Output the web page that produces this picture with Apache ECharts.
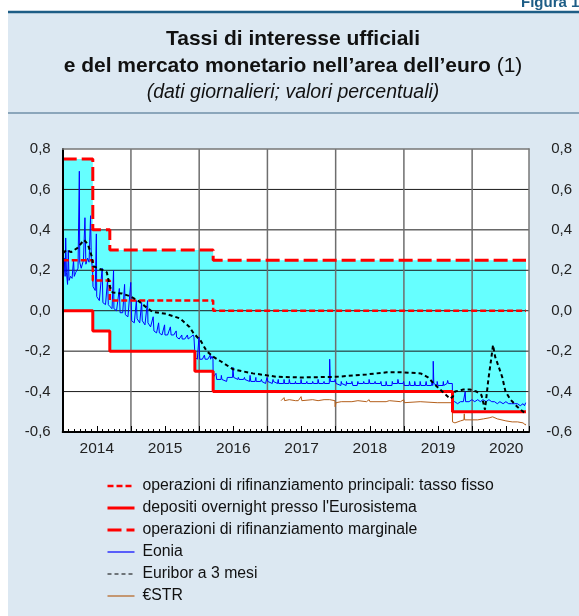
<!DOCTYPE html>
<html>
<head>
<meta charset="utf-8">
<script src="https://cdn.jsdelivr.net/npm/echarts@6/dist/echarts.min.js"></script>
<style>
  html, body { margin: 0; padding: 0; background: #fff; }
  #chart { width: 579px; height: 616px; }
</style>
</head>
<body>
<div id="chart"></div>
<script>
// policy rates: value in force from each date (last date closes the line)
var policyDates = ['2014-01-01', '2014-06-11', '2014-09-10', '2015-12-09', '2016-03-16', '2019-09-18', '2020-10-16'];
var mro = [0.25, 0.15, 0.05, 0.05, 0.00, 0.00, 0.00];
var deposit = [0.00, -0.10, -0.20, -0.30, -0.40, -0.50, -0.50];
var marginal = [0.75, 0.40, 0.30, 0.30, 0.25, 0.25, 0.25];

var yearLabels = ['2014', '2015', '2016', '2017', '2018', '2019', '2020'];
var yTicks = [-0.6, -0.4, -0.2, 0.0, 0.2, 0.4, 0.6, 0.8];

var eonia = [
  ['2014-01-02', 0.23], ['2014-01-07', 0.19], ['2014-01-10', 0.26], ['2014-01-14', 0.17], ['2014-01-17', 0.36], ['2014-01-21', 0.19],
  ['2014-01-27', 0.13], ['2014-01-31', 0.30], ['2014-02-04', 0.15], ['2014-02-12', 0.17], ['2014-02-20', 0.16], ['2014-02-28', 0.25],
  ['2014-03-04', 0.17], ['2014-03-12', 0.19], ['2014-03-24', 0.21], ['2014-03-31', 0.69], ['2014-04-02', 0.24], ['2014-04-10', 0.21],
  ['2014-04-22', 0.25], ['2014-04-30', 0.46], ['2014-05-05', 0.23], ['2014-05-14', 0.26], ['2014-05-22', 0.24], ['2014-05-30', 0.47],
  ['2014-06-03', 0.26], ['2014-06-10', 0.20], ['2014-06-12', 0.12], ['2014-06-24', 0.10], ['2014-06-30', 0.38], ['2014-07-02', 0.07],
  ['2014-07-16', 0.05], ['2014-07-31', 0.21], ['2014-08-04', 0.04], ['2014-08-18', 0.03], ['2014-08-29', 0.15], ['2014-09-02', 0.03],
  ['2014-09-11', 0.02], ['2014-09-22', 0.01], ['2014-09-30', 0.20], ['2014-10-02', 0.01], ['2014-10-16', 0.00], ['2014-10-31', 0.11],
  ['2014-11-04', -0.01], ['2014-11-18', -0.01], ['2014-11-28', 0.13], ['2014-12-02', -0.02], ['2014-12-16', -0.03], ['2014-12-31', 0.14],
  ['2015-01-05', -0.05], ['2015-01-19', -0.06], ['2015-01-30', 0.05], ['2015-02-03', -0.04], ['2015-02-17', -0.06], ['2015-02-27', 0.04],
  ['2015-03-03', -0.05], ['2015-03-17', -0.07], ['2015-03-31', 0.05], ['2015-04-02', -0.06], ['2015-04-16', -0.08], ['2015-04-30', -0.03],
  ['2015-05-04', -0.10], ['2015-05-18', -0.11], ['2015-05-29', -0.06], ['2015-06-02', -0.11], ['2015-06-16', -0.12], ['2015-06-30', -0.07],
  ['2015-07-02', -0.12], ['2015-07-16', -0.12], ['2015-07-31', -0.08], ['2015-08-04', -0.12], ['2015-08-18', -0.12], ['2015-08-31', -0.10],
  ['2015-09-02', -0.13], ['2015-09-16', -0.14], ['2015-09-30', -0.12], ['2015-10-02', -0.14], ['2015-10-16', -0.14], ['2015-10-30', -0.12],
  ['2015-11-03', -0.14], ['2015-11-17', -0.13], ['2015-11-30', -0.12], ['2015-12-04', -0.13], ['2015-12-09', -0.13], ['2015-12-10', -0.23],
  ['2015-12-22', -0.24], ['2015-12-31', -0.13], ['2016-01-04', -0.24], ['2016-01-18', -0.24], ['2016-01-29', -0.22], ['2016-02-02', -0.24],
  ['2016-02-16', -0.24], ['2016-02-29', -0.22], ['2016-03-02', -0.24], ['2016-03-10', -0.225], ['2016-03-15', -0.24], ['2016-03-16', -0.33],
  ['2016-03-31', -0.31], ['2016-04-04', -0.34], ['2016-04-27', -0.34], ['2016-04-29', -0.32], ['2016-05-02', -0.34], ['2016-05-27', -0.35],
  ['2016-05-31', -0.33], ['2016-06-02', -0.33], ['2016-06-28', -0.33], ['2016-06-30', -0.28], ['2016-07-04', -0.33], ['2016-07-27', -0.34],
  ['2016-07-29', -0.33], ['2016-08-02', -0.34], ['2016-08-26', -0.34], ['2016-08-31', -0.33], ['2016-09-02', -0.34], ['2016-09-27', -0.35],
  ['2016-09-30', -0.32], ['2016-10-04', -0.35], ['2016-10-27', -0.35], ['2016-10-31', -0.33], ['2016-11-02', -0.35], ['2016-11-25', -0.35],
  ['2016-11-30', -0.34], ['2016-12-02', -0.35], ['2016-12-22', -0.36], ['2016-12-30', -0.33],
  ['2017-01-03', -0.35], ['2017-01-27', -0.36], ['2017-01-31', -0.34], ['2017-02-02', -0.35], ['2017-02-24', -0.36], ['2017-02-28', -0.34],
  ['2017-03-02', -0.36], ['2017-03-29', -0.36], ['2017-03-31', -0.34], ['2017-04-03', -0.36], ['2017-04-26', -0.36], ['2017-04-28', -0.34],
  ['2017-05-02', -0.36], ['2017-05-29', -0.36], ['2017-05-31', -0.35], ['2017-06-02', -0.36], ['2017-06-28', -0.36], ['2017-06-30', -0.34],
  ['2017-07-03', -0.36], ['2017-07-27', -0.36], ['2017-07-31', -0.35], ['2017-08-02', -0.36], ['2017-08-29', -0.36], ['2017-08-31', -0.35],
  ['2017-09-04', -0.36], ['2017-09-27', -0.36], ['2017-09-29', -0.34], ['2017-10-03', -0.36], ['2017-10-27', -0.36], ['2017-10-31', -0.35],
  ['2017-11-02', -0.36], ['2017-11-28', -0.36], ['2017-11-30', -0.24], ['2017-12-04', -0.35], ['2017-12-27', -0.35], ['2017-12-29', -0.34],
  ['2018-01-03', -0.36], ['2018-01-29', -0.37], ['2018-01-31', -0.35], ['2018-02-02', -0.36], ['2018-02-26', -0.37], ['2018-02-28', -0.35],
  ['2018-03-02', -0.36], ['2018-03-27', -0.36], ['2018-03-29', -0.35], ['2018-04-03', -0.37], ['2018-04-26', -0.37], ['2018-04-30', -0.35],
  ['2018-05-02', -0.36], ['2018-05-29', -0.36], ['2018-05-31', -0.35], ['2018-06-04', -0.36], ['2018-06-27', -0.36], ['2018-06-29', -0.34],
  ['2018-07-03', -0.36], ['2018-07-27', -0.36], ['2018-07-31', -0.35], ['2018-08-02', -0.36], ['2018-08-29', -0.36], ['2018-08-31', -0.35],
  ['2018-09-04', -0.37], ['2018-09-26', -0.37], ['2018-09-28', -0.35], ['2018-10-02', -0.37], ['2018-10-29', -0.37], ['2018-10-31', -0.35],
  ['2018-11-02', -0.36], ['2018-11-28', -0.36], ['2018-11-30', -0.34], ['2018-12-04', -0.36], ['2018-12-27', -0.36], ['2018-12-31', -0.35],
  ['2019-01-03', -0.37], ['2019-01-29', -0.37], ['2019-01-31', -0.35], ['2019-02-04', -0.37], ['2019-02-26', -0.37], ['2019-02-28', -0.35],
  ['2019-03-04', -0.37], ['2019-03-27', -0.37], ['2019-03-29', -0.35], ['2019-04-02', -0.37], ['2019-04-26', -0.37], ['2019-04-30', -0.35],
  ['2019-05-03', -0.37], ['2019-05-29', -0.37], ['2019-05-31', -0.35], ['2019-06-04', -0.37], ['2019-06-06', -0.36], ['2019-06-07', -0.25],
  ['2019-06-10', -0.36], ['2019-06-27', -0.37], ['2019-06-28', -0.35], ['2019-07-02', -0.37], ['2019-07-29', -0.37], ['2019-07-31', -0.35],
  ['2019-08-02', -0.37], ['2019-08-20', -0.36], ['2019-08-23', -0.345], ['2019-08-27', -0.36], ['2019-09-17', -0.36], ['2019-09-18', -0.45],
  ['2019-09-30', -0.45], ['2019-10-15', -0.46], ['2019-10-31', -0.45], ['2019-11-15', -0.45], ['2019-11-25', -0.40], ['2019-11-27', -0.45],
  ['2019-12-15', -0.45], ['2019-12-31', -0.44], ['2020-01-15', -0.45], ['2020-01-31', -0.44], ['2020-02-14', -0.45], ['2020-02-28', -0.44],
  ['2020-03-16', -0.45], ['2020-03-31', -0.44], ['2020-04-15', -0.45], ['2020-04-30', -0.45], ['2020-05-15', -0.46], ['2020-05-29', -0.45],
  ['2020-06-15', -0.46], ['2020-06-30', -0.45], ['2020-07-15', -0.46], ['2020-07-31', -0.46], ['2020-08-14', -0.46], ['2020-08-31', -0.46],
  ['2020-09-15', -0.47], ['2020-09-30', -0.46], ['2020-10-08', -0.47], ['2020-10-12', -0.47], ['2020-10-14', -0.455]
];

var euribor = [
  ['2014-01-02', 0.285], ['2014-01-22', 0.30], ['2014-02-15', 0.29], ['2014-03-20', 0.31], ['2014-04-25', 0.35], ['2014-05-15', 0.33],
  ['2014-06-05', 0.27], ['2014-06-13', 0.22], ['2014-07-10', 0.21], ['2014-08-05', 0.20], ['2014-08-25', 0.19], ['2014-09-10', 0.12],
  ['2014-09-25', 0.09], ['2014-11-15', 0.085], ['2014-12-31', 0.07], ['2015-02-15', 0.045], ['2015-03-20', 0.02], ['2015-04-25', -0.005],
  ['2015-07-10', -0.016], ['2015-09-20', -0.038], ['2015-11-10', -0.08], ['2015-12-01', -0.11], ['2016-01-10', -0.15], ['2016-02-10', -0.20],
  ['2016-03-20', -0.23], ['2016-04-25', -0.25], ['2016-07-01', -0.29], ['2016-10-15', -0.31], ['2017-02-20', -0.327], ['2017-07-01', -0.33],
  ['2018-01-05', -0.327], ['2018-06-15', -0.315], ['2018-10-01', -0.305], ['2019-01-01', -0.305], ['2019-04-01', -0.31], ['2019-05-10', -0.33],
  ['2019-06-10', -0.36], ['2019-07-25', -0.40], ['2019-09-05', -0.435], ['2019-09-20', -0.425], ['2019-10-01', -0.40], ['2019-11-15', -0.39],
  ['2019-12-20', -0.39], ['2020-01-25', -0.40], ['2020-02-20', -0.417], ['2020-03-10', -0.49], ['2020-03-28', -0.34], ['2020-04-15', -0.22],
  ['2020-04-22', -0.17], ['2020-05-04', -0.23], ['2020-05-12', -0.25], ['2020-05-20', -0.245], ['2020-06-10', -0.327], ['2020-06-28', -0.40],
  ['2020-07-25', -0.44], ['2020-08-30', -0.475], ['2020-10-01', -0.50], ['2020-10-14', -0.505]
];

var estr = [
  ['2017-03-15', -0.445], ['2017-03-31', -0.43], ['2017-04-03', -0.445], ['2017-04-28', -0.44], ['2017-05-31', -0.445], ['2017-06-15', -0.445],
  ['2017-06-30', -0.425], ['2017-07-04', -0.445], ['2017-08-31', -0.44], ['2017-09-29', -0.445], ['2017-10-31', -0.44], ['2017-11-30', -0.44],
  ['2017-12-28', -0.445], ['2017-12-29', -0.475], ['2018-01-03', -0.455], ['2018-01-31', -0.45], ['2018-03-29', -0.45], ['2018-04-30', -0.445],
  ['2018-06-15', -0.45], ['2018-06-29', -0.44], ['2018-07-03', -0.45], ['2018-09-28', -0.45], ['2018-10-15', -0.445], ['2018-12-14', -0.45],
  ['2018-12-31', -0.44], ['2019-01-03', -0.455], ['2019-03-29', -0.45], ['2019-06-28', -0.455], ['2019-09-17', -0.455], ['2019-09-18', -0.55],
  ['2019-10-01', -0.555], ['2019-10-31', -0.545], ['2019-11-18', -0.54], ['2019-11-20', -0.51], ['2019-11-22', -0.54], ['2019-12-31', -0.54],
  ['2020-01-31', -0.54], ['2020-03-02', -0.535], ['2020-04-01', -0.53], ['2020-04-20', -0.525], ['2020-05-15', -0.535], ['2020-06-30', -0.545],
  ['2020-08-03', -0.55], ['2020-09-01', -0.55], ['2020-09-30', -0.555], ['2020-10-13', -0.565], ['2020-10-14', -0.56]
];

var names = [
  'operazioni di rifinanziamento principali: tasso fisso',
  "depositi overnight presso l'Eurosistema",
  'operazioni di rifinanziamento marginale',
  'Eonia',
  'Euribor a 3 mesi',
  '€STR'
];

// date string -> decimal year
function yf(s) {
  var p = s.split('-').map(Number);
  var t = Date.UTC(p[0], p[1] - 1, p[2]), a = Date.UTC(p[0], 0, 1), b = Date.UTC(p[0] + 1, 0, 1);
  return p[0] + (t - a) / (b - a);
}
function pairs(list) { return list.map(function (d) { return [yf(d[0]), d[1]]; }); }
function steps(vals) { return policyDates.map(function (d, i) { return [yf(d), vals[i]]; }); }

var xMin = 2014, xMax = yf('2020-11-01');
var yMin = yTicks[0], yMax = yTicks[yTicks.length - 1];
var font = 'Liberation Sans';
var fmt = function (v) { return v.toFixed(1).replace('.', ','); };
var plot = { left: 62.7, top: 149, right: 50, bottom: 184 };

var chart = echarts.init(document.getElementById('chart'), null, { renderer: 'canvas' });

var lineBase = { type: 'line', symbol: 'none', showSymbol: false, silent: true, xAxisIndex: 0, yAxisIndex: 0 };

// grid lines as plain series so they sit above the corridor fill but under the rates
var gridSeries = [];
yTicks.slice(1, -1).forEach(function (v) {
  gridSeries.push(Object.assign({}, lineBase, {
    name: 'h' + v, z: 2, data: [[xMin, v], [xMax, v]],
    lineStyle: { color: '#1a1a1a', width: 1 }
  }));
});
yearLabels.slice(1).forEach(function (y) {
  gridSeries.push(Object.assign({}, lineBase, {
    name: 'v' + y, z: 2, data: [[+y, yMin], [+y, yMax]],
    lineStyle: { color: '#6e6e6e', width: 1.5 }
  }));
});

chart.setOption({
  animation: false,
  backgroundColor: '#dce8f2',
  textStyle: { fontFamily: font },
  title: {
    left: 288, top: 21, textAlign: 'center',
    text: 'Tassi di interesse ufficiali\n{b|e del mercato monetario nell’area dell’euro} {n|(1)}',
    textStyle: {
      fontSize: 21, fontWeight: 'bold', color: '#111', lineHeight: 27,
      rich: {
        b: { fontSize: 21, fontWeight: 'bold', color: '#111', lineHeight: 27, fontFamily: font },
        n: { fontSize: 21, fontWeight: 'normal', color: '#111', lineHeight: 27, fontFamily: font }
      }
    },
    subtext: '(dati giornalieri; valori percentuali)',
    itemGap: 2,
    subtextStyle: { fontSize: 19.5, fontStyle: 'italic', color: '#111', lineHeight: 22 }
  },
  graphic: [
    { type: 'rect', z: -5, shape: { x: plot.left, y: plot.top, width: 579 - plot.left - plot.right, height: 616 - plot.top - plot.bottom }, style: { fill: '#fff' } },
    { type: 'rect', shape: { x: 0, y: 0, width: 579, height: 11 }, style: { fill: '#fff' } },
    { type: 'rect', shape: { x: 0, y: 0, width: 8, height: 616 }, style: { fill: '#fff' } },
    { type: 'line', shape: { x1: 8, y1: 12, x2: 579, y2: 12 }, style: { stroke: '#1d5d86', lineWidth: 2.5 } },
    { type: 'line', shape: { x1: 8, y1: 113, x2: 579, y2: 113 }, style: { stroke: '#3b6584', lineWidth: 1.2 } },
    { type: 'text', x: 521, y: -5, style: { text: 'Figura 1', font: 'bold 15px "Liberation Sans"', fill: '#1d5d86' } }
  ],
  grid: {
    left: plot.left, top: plot.top, right: plot.right, bottom: plot.bottom,
    show: false
  },
  legend: {
    orient: 'vertical', left: 106, top: 478, padding: 0,
    itemWidth: 27, itemHeight: 14, itemGap: 6,
    itemStyle: { opacity: 0 },
    textStyle: { fontSize: 15.8, color: '#111', padding: [0, 0, 0, 3] },
    data: [
      { name: names[0], lineStyle: { width: 2.5 } },
      { name: names[1], lineStyle: { width: 3 } },
      { name: names[2], lineStyle: { width: 3 } },
      { name: names[3], lineStyle: { width: 1.2 } },
      { name: names[4], lineStyle: { width: 1.2 } },
      { name: names[5], lineStyle: { width: 1.2 } }
    ]
  },
  xAxis: [
    {
      type: 'value', min: xMin, max: xMax, interval: 1, zlevel: 1,
      axisLine: { show: true, onZero: false, lineStyle: { color: '#000', width: 2 } },
      axisTick: { show: false, inside: true },
      minorTick: { show: true, splitNumber: 12, length: 3, lineStyle: { color: '#000', width: 1 } },
      axisLabel: { show: false },
      splitLine: { show: false }
    },
    {
      type: 'value', min: xMin, max: xMax, interval: 0.5, position: 'bottom', zlevel: 1,
      axisLine: { show: false, onZero: false },
      axisTick: { show: true, inside: true, length: 6, lineStyle: { color: '#000', width: 1 } },
      splitLine: { show: false },
      axisLabel: {
        margin: 9, fontSize: 15.5, color: '#222',
        formatter: function (v) {
          var i = Math.floor(v) - xMin;
          return (v % 1 === 0.5 && yearLabels[i]) ? yearLabels[i] : '';
        }
      }
    },
    {
      type: 'value', min: xMin, max: xMax, position: 'top', zlevel: 1,
      axisLine: { show: true, onZero: false, lineStyle: { color: '#777', width: 1.5 } },
      axisTick: { show: false }, axisLabel: { show: false }, splitLine: { show: false }
    }
  ],
  yAxis: [
    {
      type: 'value', min: yMin, max: yMax, interval: 0.2, zlevel: 1,
      axisLine: { show: true, onZero: false, lineStyle: { color: '#000', width: 2 } },
      axisTick: { show: false },
      axisLabel: { margin: 12, fontSize: 15, color: '#222', formatter: fmt },
      splitLine: { show: false }
    },
    {
      type: 'value', position: 'right', min: yMin, max: yMax, interval: 0.2, zlevel: 1,
      axisLine: { show: true, onZero: false, lineStyle: { color: '#777', width: 1.5 } },
      axisTick: { show: false },
      axisLabel: { margin: 43, align: 'right', fontSize: 15, color: '#222', formatter: fmt },
      splitLine: { show: false }
    }
  ],
  series: [
    // corridor: cyan under the marginal rate, then white under the deposit rate
    Object.assign({}, lineBase, {
      name: 'corridoio', step: 'end', z: 1, data: steps(marginal),
      lineStyle: { opacity: 0, width: 0 }, areaStyle: { color: '#66ffff', opacity: 1, origin: 'start' }
    }),
    Object.assign({}, lineBase, {
      name: 'sotto corridoio', step: 'end', z: 1, data: steps(deposit),
      lineStyle: { opacity: 0, width: 0 }, areaStyle: { color: '#ffffff', opacity: 1, origin: 'start' }
    })
  ].concat(gridSeries, [
    Object.assign({}, lineBase, {
      name: names[3], z: 3, data: pairs(eonia),
      itemStyle: { color: '#0000ff' }, lineStyle: { color: '#0000ff', width: 1 }
    }),
    Object.assign({}, lineBase, {
      name: names[5], z: 3, data: pairs(estr),
      itemStyle: { color: '#b4601c' }, lineStyle: { color: '#b4601c', width: 1 }
    }),
    Object.assign({}, lineBase, {
      name: names[1], step: 'end', z: 4, data: steps(deposit),
      itemStyle: { color: '#ff0000' }, lineStyle: { color: '#ff0000', width: 3 }
    }),
    Object.assign({}, lineBase, {
      name: names[0], step: 'end', z: 4, data: steps(mro),
      itemStyle: { color: '#ff0000' }, lineStyle: { color: '#ff0000', width: 2.5, type: [6, 3] }
    }),
    Object.assign({}, lineBase, {
      name: names[2], step: 'end', z: 4, data: steps(marginal),
      itemStyle: { color: '#ff0000' }, lineStyle: { color: '#ff0000', width: 3, type: [14, 5] }
    }),
    Object.assign({}, lineBase, {
      name: names[4], z: 5, data: pairs(euribor),
      itemStyle: { color: '#000' }, lineStyle: { color: '#000', width: 2, type: [4, 3] }
    })
  ])
});
</script>
</body>
</html>
